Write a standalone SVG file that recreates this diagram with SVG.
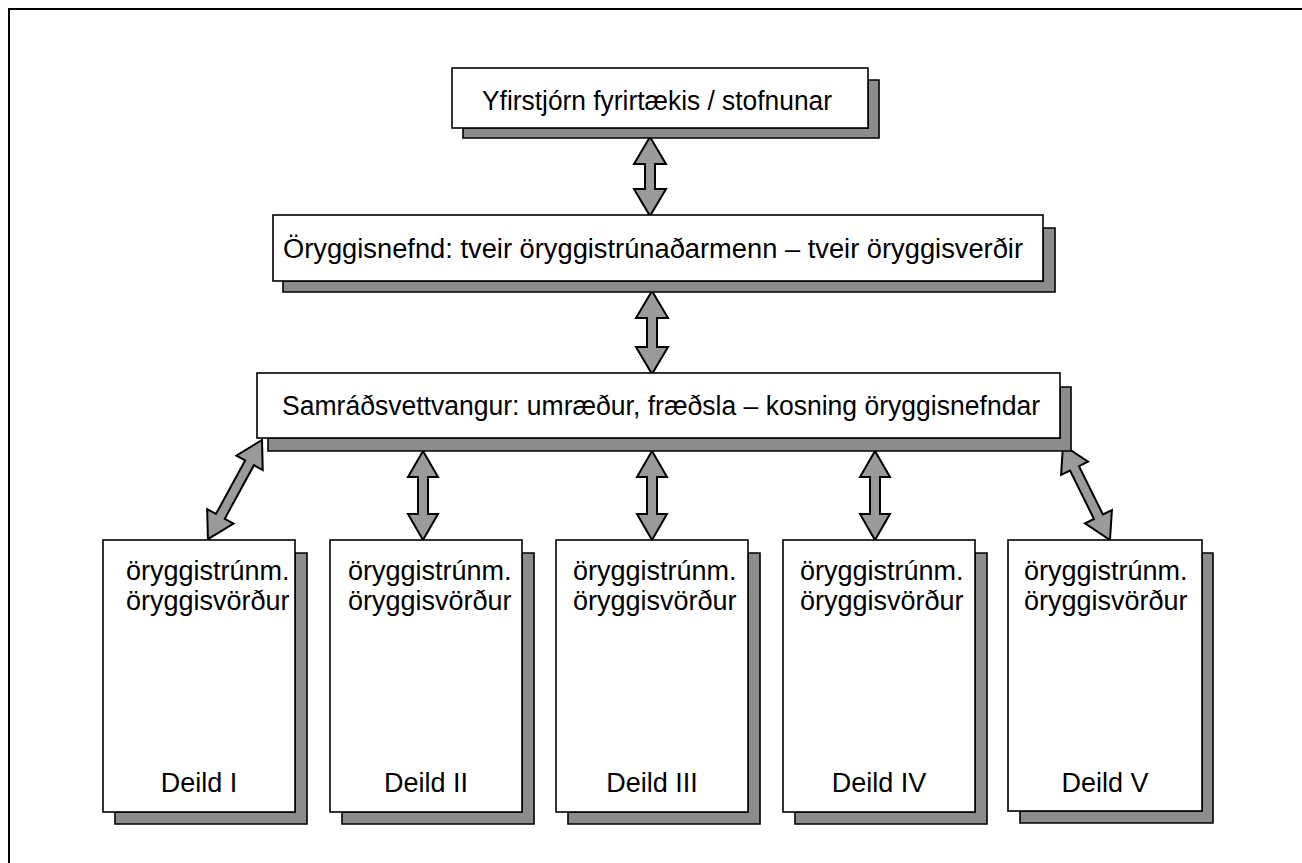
<svg xmlns="http://www.w3.org/2000/svg" width="1302" height="863" viewBox="0 0 1302 863">
<style>
.bg{fill:#ffffff}
.frame{fill:none;stroke:#000;stroke-width:2}
.box{fill:#ffffff;stroke:#000;stroke-width:1.6}
.shadow{fill:#8c8c8c;stroke:#000;stroke-width:1.6}
.arrow{fill:#9a9a9a;stroke:#000;stroke-width:2;stroke-linejoin:miter}
.t{font-family:"Liberation Sans",Arial,Helvetica,sans-serif;font-size:27px;fill:#000}
.c{text-anchor:middle}
</style>
<rect class="bg" x="0" y="0" width="1302" height="863"/>
<path class="frame" d="M9,863 L9,9 L1302,9"/>

<g id="connectors">
  <path class="arrow" d="M650,137 L666,164 L655,164 L655,189 L666,189 L650,216 L634,189 L645,189 L645,164 L634,164 Z"/>
  <path class="arrow" d="M652,291 L668,318 L657,318 L657,347 L668,347 L652,374 L636,347 L647,347 L647,318 L636,318 Z"/>
  <path class="arrow" transform="translate(262,440) rotate(28.6)" d="M0,0 L15,26 L5,26 L5,87 L15,87 L0,113 L-15,87 L-5,87 L-5,26 L-15,26 Z"/>
  <path class="arrow" d="M423,451 L438,477 L428,477 L428,514 L438,514 L423,540 L408,514 L418,514 L418,477 L408,477 Z"/>
  <path class="arrow" d="M652,451 L667,477 L657,477 L657,514 L667,514 L652,540 L637,514 L647,514 L647,477 L637,477 Z"/>
  <path class="arrow" d="M875,451 L890,477 L880,477 L880,514 L890,514 L875,540 L860,514 L870,514 L870,477 L860,477 Z"/>
  <path class="arrow" transform="translate(1063,445) rotate(-26.3)" d="M0,0 L15,26 L5,26 L5,80 L15,80 L0,106 L-15,80 L-5,80 L-5,26 L-15,26 Z"/>
</g>

<g id="node-top">
  <path class="shadow" d="M868,80 L879,80 L879,138 L463,138 L463,128 L868,128 Z"/>
  <rect class="box" x="452" y="68" width="416" height="60"/>
  <text class="t" x="482" y="110" textLength="350" lengthAdjust="spacingAndGlyphs">Yfirstjórn fyrirtækis / stofnunar</text>
</g>

<g id="node-oryggisnefnd">
  <path class="shadow" d="M1043,228 L1055,228 L1055,292 L283,292 L283,281 L1043,281 Z"/>
  <rect class="box" x="273" y="215" width="770" height="66"/>
  <text class="t" x="283" y="258" textLength="740" lengthAdjust="spacingAndGlyphs">Öryggisnefnd: tveir öryggistrúnaðarmenn – tveir öryggisverðir</text>
</g>

<g id="node-samradsvettvangur">
  <path class="shadow" d="M1060,387 L1071,387 L1071,451 L268,451 L268,438 L1060,438 Z"/>
  <rect class="box" x="257" y="373" width="803" height="65"/>
  <text class="t" x="282" y="415" textLength="758" lengthAdjust="spacingAndGlyphs">Samráðsvettvangur: umræður, fræðsla – kosning öryggisnefndar</text>
</g>

<g id="node-deild1">
  <path class="shadow" d="M295,553 L307,553 L307,824 L115,824 L115,812 L295,812 Z"/>
  <rect class="box" x="103" y="540" width="192" height="272"/>
  <text class="t" x="126" y="580">öryggistrúnm.</text>
  <text class="t" x="126" y="610">öryggisvörður</text>
  <text class="t c" x="199" y="792">Deild I</text>
</g>

<g id="node-deild2">
  <path class="shadow" d="M522,553 L534,553 L534,824 L342,824 L342,812 L522,812 Z"/>
  <rect class="box" x="330" y="540" width="192" height="272"/>
  <text class="t" x="348" y="580">öryggistrúnm.</text>
  <text class="t" x="348" y="610">öryggisvörður</text>
  <text class="t c" x="426" y="792">Deild II</text>
</g>

<g id="node-deild3">
  <path class="shadow" d="M748,553 L760,553 L760,824 L568,824 L568,812 L748,812 Z"/>
  <rect class="box" x="556" y="540" width="192" height="272"/>
  <text class="t" x="573" y="580">öryggistrúnm.</text>
  <text class="t" x="573" y="610">öryggisvörður</text>
  <text class="t c" x="652" y="792">Deild III</text>
</g>

<g id="node-deild4">
  <path class="shadow" d="M975,553 L987,553 L987,824 L795,824 L795,812 L975,812 Z"/>
  <rect class="box" x="783" y="540" width="192" height="272"/>
  <text class="t" x="800" y="580">öryggistrúnm.</text>
  <text class="t" x="800" y="610">öryggisvörður</text>
  <text class="t c" x="879" y="792">Deild IV</text>
</g>

<g id="node-deild5">
  <path class="shadow" d="M1202,553 L1213,553 L1213,823 L1020,823 L1020,811 L1202,811 Z"/>
  <rect class="box" x="1008" y="540" width="194" height="271"/>
  <text class="t" x="1024" y="580">öryggistrúnm.</text>
  <text class="t" x="1024" y="610">öryggisvörður</text>
  <text class="t c" x="1105" y="792">Deild V</text>
</g>
</svg>
